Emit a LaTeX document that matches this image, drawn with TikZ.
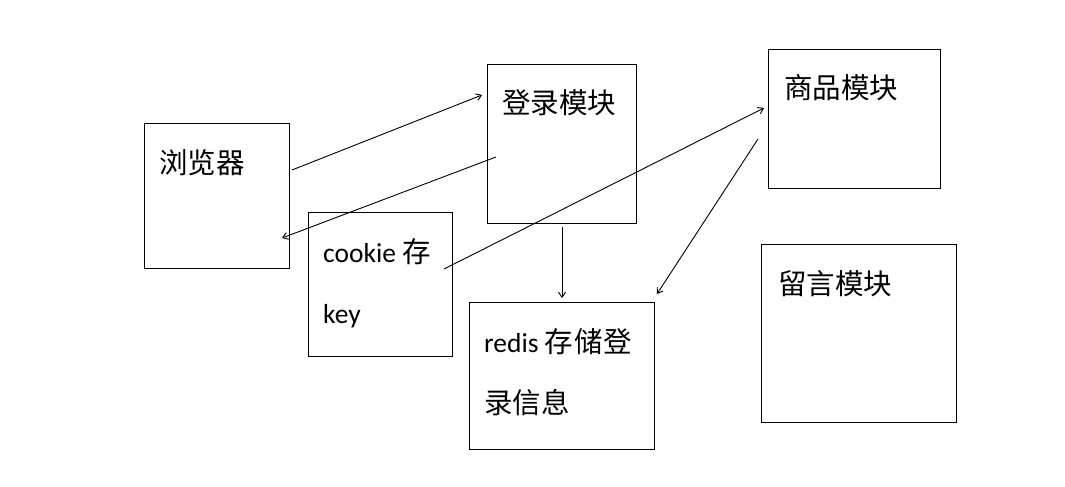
\documentclass[tikz,border=0pt]{standalone}
\usepackage{fontspec}
\setmainfont{Carlito}
\newfontfamily\cjkfont{Noto Sans CJK SC}
\newcommand{\cj}[1]{{\cjkfont\fontsize{28.5}{28.5}\selectfont #1}}
\usetikzlibrary{arrows.meta}
\begin{document}
\begin{tikzpicture}[x=1pt,y=-1pt,
  box/.style={draw, line width=1.4pt, inner sep=0pt, anchor=north west},
  lbl/.style={anchor=base west, inner sep=0pt, font=\fontsize{27.5}{27.5}\selectfont},
  conn/.style={line width=0.9pt, -{Straight Barb[length=5pt,width=7pt]}}]
\useasboundingbox[fill=white] (0,0) rectangle (1065,487);
% boxes
\node[box, minimum width=145pt, minimum height=145pt] (browser) at (144,123) {};
\node[box, minimum width=149pt, minimum height=159pt] (login) at (487,64) {};
\node[box, minimum width=144pt, minimum height=144pt] (cookie) at (308,212) {};
\node[box, minimum width=185pt, minimum height=147pt] (redis) at (469,302) {};
\node[box, minimum width=172pt, minimum height=139pt] (goods) at (768,49) {};
\node[box, minimum width=195pt, minimum height=178pt] (msg) at (761,244) {};
% labels
\node[lbl] (tbrowser) at (159,173) {\cj{浏览器}};
\node[lbl] (tlogin) at (502,113) {\cj{登录模块}};
\node[lbl] (tcookieA) at (323,262) {cookie \cj{存}};
\node[lbl] (tcookieB) at (323,323) {key};
\node[lbl] (tredisA) at (484,352) {redis \cj{存\kern1pt 储\kern1pt 登}};
\node[lbl] (tredisB) at (484,413) {\cj{录信息}};
\node[lbl] (tgoods) at (784,99) {\cj{商品模块}};
\node[lbl] (tmsg) at (778,294) {\cj{留言模块}};
% connector ends
\coordinate (a1s) at (292,170); \coordinate (a1e) at (482,95);
\coordinate (a2s) at (496,157); \coordinate (a2e) at (282,238);
\coordinate (a3s) at (444,269); \coordinate (a3e) at (764,108);
\coordinate (a4s) at (758,139); \coordinate (a4e) at (657,294);
\coordinate (a5s) at (562,227); \coordinate (a5e) at (562,298);
\draw[conn] (a1s) -- (a1e);
\draw[conn] (a2s) -- (a2e);
\draw[conn] (a3s) -- (a3e);
\draw[conn] (a4s) -- (a4e);
\draw[conn] (a5s) -- (a5e);
\end{tikzpicture}
\end{document}
